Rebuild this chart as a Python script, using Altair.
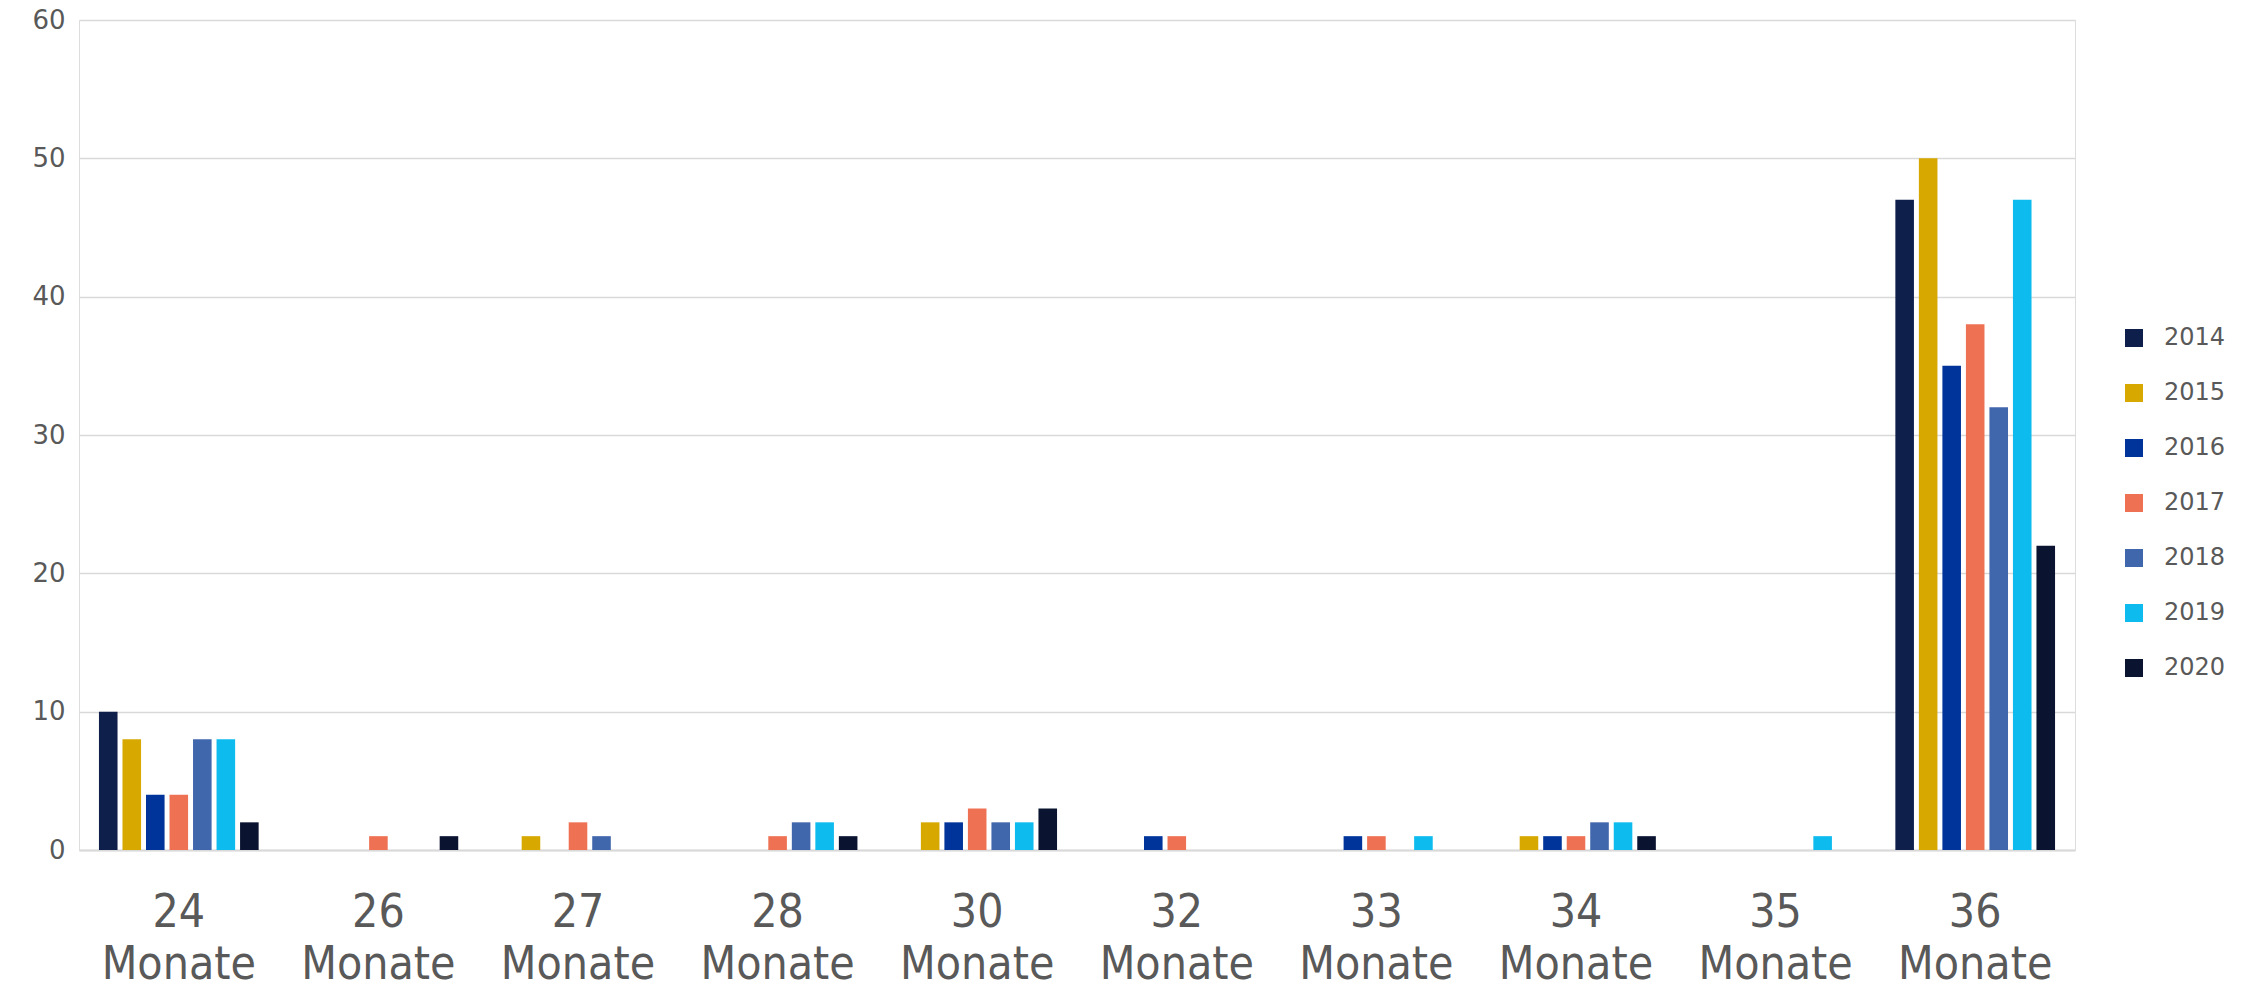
import altair as alt
import pandas as pd

categories = ["24 Monate", "26 Monate", "27 Monate", "28 Monate", "30 Monate",
              "32 Monate", "33 Monate", "34 Monate", "35 Monate", "36 Monate"]
years = ["2014", "2015", "2016", "2017", "2018", "2019", "2020"]
colors = ["#0F1F4B", "#D6A800", "#00349A", "#EE7153", "#4066AC", "#0DBBEE", "#0A1430"]

# counts per year, one value per category (same order as `categories`)
v2014 = [10, 0, 0, 0, 0, 0, 0, 0, 0, 47]
v2015 = [8, 0, 1, 0, 2, 0, 0, 1, 0, 50]
v2016 = [4, 0, 0, 0, 2, 1, 1, 1, 0, 35]
v2017 = [4, 1, 2, 1, 3, 1, 1, 1, 0, 38]
v2018 = [8, 0, 1, 2, 2, 0, 0, 2, 0, 32]
v2019 = [8, 0, 0, 2, 2, 0, 1, 2, 1, 47]
v2020 = [2, 1, 0, 1, 3, 0, 0, 1, 0, 22]

series = dict(zip(years, [v2014, v2015, v2016, v2017, v2018, v2019, v2020]))
rows = []
for y, vals in series.items():
    for c, v in zip(categories, vals):
        if v > 0:
            rows.append({"Dauer": c, "Jahr": y, "Anzahl": v})
df = pd.DataFrame(rows)

W, H = 1996, 830

chart = alt.Chart(df).mark_bar().encode(
    x=alt.X("Dauer:N", sort=categories,
            scale=alt.Scale(domain=categories, paddingInner=0.2, paddingOuter=0.1),
            axis=alt.Axis(title=None, labelAngle=0, ticks=False,
                          labelExpr="split(datum.label, ' ')",
                          labelFont="Liberation Sans Narrow, DejaVu Sans Condensed, sans-serif",
                          labelFontSize=46, labelLineHeight=52, labelPadding=40,
                          labelColor="#595959", domainColor="#D9D9D9", domainWidth=2)),
    xOffset=alt.XOffset("Jahr:N", scale=alt.Scale(domain=years, paddingInner=0.21, paddingOuter=0)),
    y=alt.Y("Anzahl:Q", scale=alt.Scale(domain=[0, 60], nice=False),
            axis=alt.Axis(title=None, values=[0, 10, 20, 30, 40, 50, 60], ticks=False, domain=False,
                          labelFont="DejaVu Sans", labelFontSize=26, labelColor="#595959",
                          labelPadding=14, gridColor="#D9D9D9", gridWidth=1.5)),
    color=alt.Color("Jahr:N", scale=alt.Scale(domain=years, range=colors),
                    legend=alt.Legend(title=None, orient="none", legendX=2043, legendY=306,
                                      symbolType="square", symbolSize=324, symbolStrokeWidth=0,
                                      labelFont="DejaVu Sans", labelFontSize=24, labelColor="#595959",
                                      labelOffset=18, rowPadding=31, padding=0)),
).properties(
    width=W, height=H,
    autosize=alt.AutoSizeParams(type="none"),
    padding={"left": 79, "top": 20, "right": 177, "bottom": 142},
).configure_view(stroke=None).configure(background="white")

chart.save("out.html", embed_options={"renderer": "svg", "actions": False})
